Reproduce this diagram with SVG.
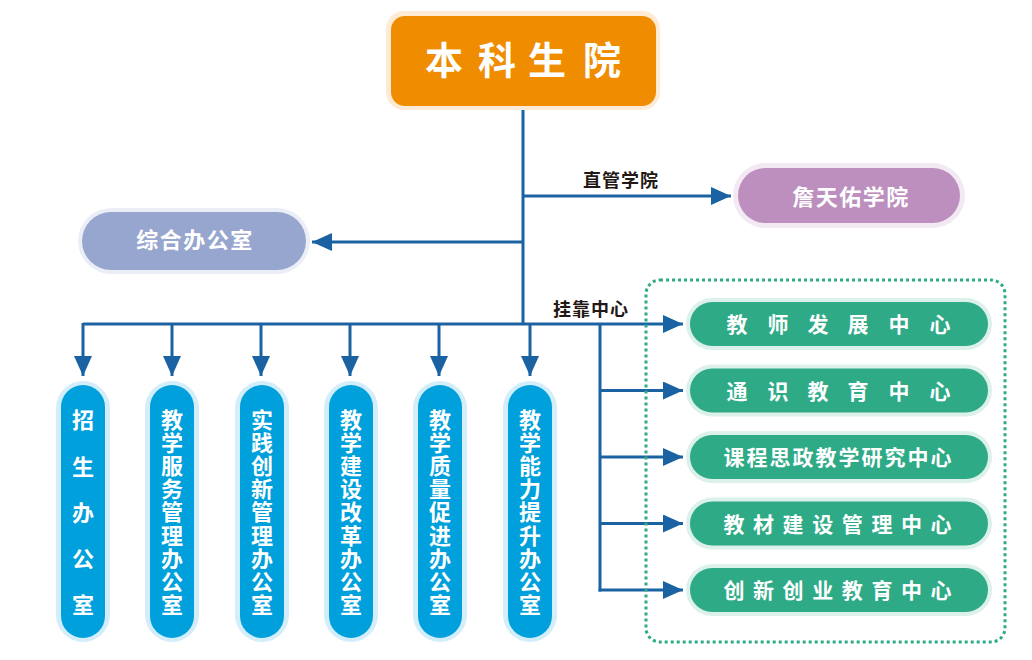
<svg xmlns="http://www.w3.org/2000/svg" width="1032" height="660" viewBox="0 0 1032 660">
<style>
.t{font-family:"Noto Sans CJK SC","Noto Sans CJK TC",sans-serif;font-weight:700;fill:#fff;text-anchor:middle}
.lbl{font-family:"Noto Sans CJK SC","Noto Sans CJK TC",sans-serif;font-weight:700;fill:#231815;font-size:18px;text-anchor:middle;letter-spacing:1px}
.ln{fill:none;stroke:#1b62a3;stroke-width:3}
.arr{marker-end:url(#ah)}
.gh{fill:#dcf1ea}.g{fill:#2eaa87}
.bh{fill:#d3eefa}.b{fill:#00a0dc}
</style>
<defs>
<marker id="ah" viewBox="0 0 20 18" refX="20" refY="9" markerWidth="20" markerHeight="18" markerUnits="userSpaceOnUse" orient="auto">
<path d="M0 0 L20 9 L0 18 Z" fill="#1b62a3"/>
</marker>
</defs>
<rect width="1032" height="660" fill="#fff"/>

<g id="connectors">
<path class="ln" d="M523 110 V324"/>
<path class="ln arr" d="M523 196 H731"/>
<path class="ln arr" d="M523 242 H312"/>
<path class="ln arr" d="M83 324 H683"/>
<path class="ln arr" d="M83 323 V376"/>
<path class="ln arr" d="M172 323 V376"/>
<path class="ln arr" d="M261 323 V376"/>
<path class="ln arr" d="M350 323 V376"/>
<path class="ln arr" d="M439 323 V376"/>
<path class="ln arr" d="M530 323 V376"/>
<path class="ln" d="M600 323 V591.5"/>
<path class="ln arr" d="M600 390.5 H683"/>
<path class="ln arr" d="M600 457 H683"/>
<path class="ln arr" d="M600 523.5 H683"/>
<path class="ln arr" d="M598.5 590 H683"/>
<text class="lbl" x="621" y="187">直管学院</text>
<text class="lbl" x="591" y="316">挂靠中心</text>
</g>

<rect x="646" y="280" width="359" height="362" rx="14" fill="none" stroke="#2eaa87" stroke-width="3" stroke-dasharray="3 3"/>

<g id="n-top">
<rect x="386" y="11" width="274" height="99" rx="18" fill="#fdebd5"/>
<rect x="391" y="16" width="265" height="90" rx="14" fill="#f08c00"/>
<text class="t" font-size="38" x="444 497 547 602" y="74">本科生院</text>
</g>

<g id="n-zty">
<rect x="733" y="163" width="232" height="65" rx="32.5" fill="#f2e9f3"/>
<rect x="738" y="168" width="222" height="55" rx="27.5" fill="#bc8fbf"/>
<text class="t" font-size="22" x="851" y="205" letter-spacing="1.5">詹天佑学院</text>
</g>

<g id="n-zh">
<rect x="78" y="208" width="232" height="66" rx="33" fill="#ebeef7"/>
<rect x="82" y="212" width="224" height="58" rx="29" fill="#97a6cf"/>
<text class="t" font-size="22" x="195" y="248" letter-spacing="1.5">综合办公室</text>
</g>

<g id="c1">
<rect class="gh" x="686" y="298" width="306" height="52" rx="26"/>
<rect class="g" x="690" y="302" width="298" height="44" rx="22"/>
<text class="t" font-size="21" x="737 778 818 858 899 940" y="332">教师发展中心</text>
</g>
<g id="c2">
<rect class="gh" x="686" y="364.5" width="306" height="52" rx="26"/>
<rect class="g" x="690" y="368.5" width="298" height="44" rx="22"/>
<text class="t" font-size="21" x="737 778 818 858 899 940" y="398.5">通识教育中心</text>
</g>
<g id="c3">
<rect class="gh" x="686" y="431" width="306" height="52" rx="26"/>
<rect class="g" x="690" y="435" width="298" height="44" rx="22"/>
<text class="t" font-size="21" x="734 757 780 803 826 849 872 895 918 941" y="465">课程思政教学研究中心</text>
</g>
<g id="c4">
<rect class="gh" x="686" y="497.5" width="306" height="52" rx="26"/>
<rect class="g" x="690" y="501.5" width="298" height="44" rx="22"/>
<text class="t" font-size="21" x="734 763.6 793.1 822.7 852.3 881.9 911.4 941" y="531.5">教材建设管理中心</text>
</g>
<g id="c5">
<rect class="gh" x="686" y="564" width="306" height="52" rx="26"/>
<rect class="g" x="690" y="568" width="298" height="44" rx="22"/>
<text class="t" font-size="21" x="734 763.6 793.1 822.7 852.3 881.9 911.4 941" y="598">创新创业教育中心</text>
</g>

<g id="o1">
<rect class="bh" x="56" y="381" width="54" height="261" rx="27"/>
<rect class="b" x="61" y="385" width="44" height="253" rx="22"/>
<text class="t" font-size="22" x="83 83 83 83 83" y="428 474.5 520.5 567 613">招生办公室</text>
</g>
<g id="o2">
<rect class="bh" x="145" y="381" width="54" height="261" rx="27"/>
<rect class="b" x="150" y="385" width="44" height="253" rx="22"/>
<text class="t" font-size="22" x="172 172 172 172 172 172 172 172 172" y="428 451.1 474.2 497.3 520.4 543.5 566.6 589.7 612.8">教学服务管理办公室</text>
</g>
<g id="o3">
<rect class="bh" x="235" y="381" width="54" height="261" rx="27"/>
<rect class="b" x="240" y="385" width="44" height="253" rx="22"/>
<text class="t" font-size="22" x="262 262 262 262 262 262 262 262 262" y="428 451.1 474.2 497.3 520.4 543.5 566.6 589.7 612.8">实践创新管理办公室</text>
</g>
<g id="o4">
<rect class="bh" x="324" y="381" width="54" height="261" rx="27"/>
<rect class="b" x="329" y="385" width="44" height="253" rx="22"/>
<text class="t" font-size="22" x="351 351 351 351 351 351 351 351 351" y="428 451.1 474.2 497.3 520.4 543.5 566.6 589.7 612.8">教学建设改革办公室</text>
</g>
<g id="o5">
<rect class="bh" x="413" y="381" width="54" height="261" rx="27"/>
<rect class="b" x="418" y="385" width="44" height="253" rx="22"/>
<text class="t" font-size="22" x="440 440 440 440 440 440 440 440 440" y="428 451.1 474.2 497.3 520.4 543.5 566.6 589.7 612.8">教学质量促进办公室</text>
</g>
<g id="o6">
<rect class="bh" x="503" y="381" width="54" height="261" rx="27"/>
<rect class="b" x="508" y="385" width="44" height="253" rx="22"/>
<text class="t" font-size="22" x="530 530 530 530 530 530 530 530 530" y="428 451.1 474.2 497.3 520.4 543.5 566.6 589.7 612.8">教学能力提升办公室</text>
</g>
</svg>
